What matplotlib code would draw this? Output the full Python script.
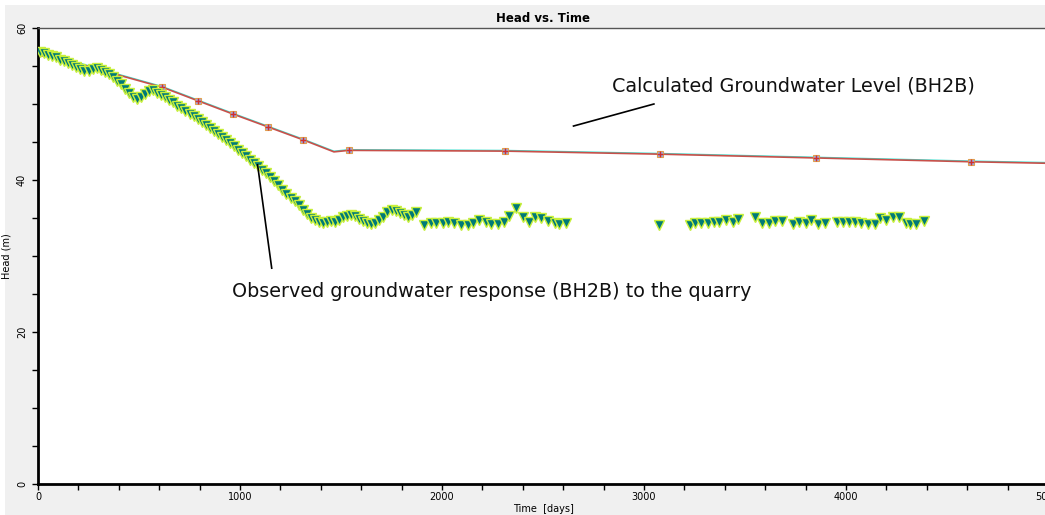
import matplotlib
matplotlib.use("Agg")
import matplotlib.pyplot as plt
from matplotlib.patches import Rectangle
from matplotlib.ticker import MultipleLocator

# --- data ---
calc_t = [10, 25, 333, 616, 794, 963, 1137, 1311, 1465, 1539, 2314, 3078, 3853, 4618, 5000]
calc_h = [56.8, 56.7, 54.3, 52.2, 50.4, 48.7, 47.0, 45.3, 43.7, 43.9, 43.8, 43.4, 42.9, 42.4, 42.2]
calc_mark_t = [25, 333, 616, 794, 963, 1137, 1311, 1539, 2314, 3078, 3853, 4618]
calc_mark_h = [56.7, 54.3, 52.2, 50.4, 48.7, 47.0, 45.3, 43.9, 43.8, 43.4, 42.9, 42.4]

obs_t = [10, 30, 50, 70, 90, 110, 130, 150, 170, 190, 210, 230, 250, 270, 290,
         310, 330, 350, 370, 390, 410, 430, 450, 470, 490, 510, 530, 550, 570,
         590, 610, 630, 650, 670, 690, 710, 730, 750, 770, 790, 810, 830, 850,
         870, 890, 910, 930, 950, 970, 990, 1010, 1030, 1050, 1070, 1090, 1110,
         1130, 1150, 1170, 1190, 1210, 1230, 1250, 1270, 1290, 1310, 1330, 1350,
         1370, 1390, 1410, 1430, 1450, 1470, 1490, 1510, 1530, 1550, 1570, 1590,
         1610, 1630, 1650, 1670, 1690, 1710, 1730, 1750, 1770, 1790, 1810, 1830,
         1850, 1870,
         1912, 1947, 1971, 2006, 2031, 2061, 2095, 2130, 2155, 2185, 2219, 2244,
         2279, 2309, 2334, 2368, 2403, 2433, 2458, 2492, 2527, 2557, 2577, 2612,
         3073, 3227, 3252, 3282, 3317, 3347, 3371, 3406, 3441, 3466, 3550, 3585,
         3620, 3650, 3684, 3739, 3769, 3803, 3828, 3863, 3898, 3957, 3987, 4017,
         4047, 4076, 4111, 4146, 4166, 4200, 4235, 4260, 4295, 4319, 4349, 4384]
obs_h = [56.8, 56.7, 56.5, 56.3, 56.2, 55.8, 55.6, 55.4, 55.1, 54.9, 54.6, 54.3,
         54.4, 54.6, 54.8, 54.5, 54.2, 53.9, 53.5, 53.0, 52.6, 52.0, 51.4, 50.9,
         50.6, 50.9, 51.3, 51.7, 51.8, 51.5, 51.2, 50.9, 50.5, 50.2, 49.8, 49.5,
         49.1, 48.7, 48.4, 48.0, 47.6, 47.3, 46.9, 46.5, 46.1, 45.7, 45.3, 44.9,
         44.5, 44.0, 43.6, 43.1, 42.6, 42.2, 41.8, 41.3, 40.9, 40.4, 39.9, 39.3,
         38.7, 38.1, 37.6, 37.3, 36.7, 36.1, 35.5, 35.0, 34.7, 34.5, 34.4, 34.5,
         34.6, 34.5, 34.8, 35.1, 35.3, 35.4, 35.3, 34.9, 34.6, 34.3, 34.2, 34.4,
         34.7, 35.1, 35.8, 36.1, 35.9, 35.7, 35.4, 35.1, 35.4, 35.8,
         34.1, 34.3, 34.3, 34.3, 34.5, 34.3, 34.1, 34.1, 34.3, 34.7, 34.5, 34.2,
         34.2, 34.5, 35.3, 36.3, 35.1, 34.5, 35.1, 35.0, 34.6, 34.3, 34.2, 34.3,
         34.1, 34.1, 34.3, 34.3, 34.3, 34.5, 34.5, 34.7, 34.5, 34.9, 35.1, 34.3,
         34.3, 34.6, 34.6, 34.2, 34.5, 34.3, 34.7, 34.2, 34.3, 34.5, 34.5, 34.5,
         34.5, 34.3, 34.2, 34.2, 35.0, 34.7, 35.1, 35.1, 34.3, 34.2, 34.2, 34.6]

GRAY = "#f0f0f0"
TEAL, LIME = "#007a78", "#c8f03a"

fig = plt.figure(figsize=(10.45, 5.15), dpi=100)
fig.patch.set_facecolor("white")
fig.patches.append(Rectangle((5 / 1045, 0), 1, 1 - 5 / 515, transform=fig.transFigure,
                             facecolor=GRAY, edgecolor="none", zorder=-10))

ax = fig.add_axes([38 / 1045, 31 / 515, 1010 / 1045, 456 / 515])
ax.set_facecolor("white")
ax.set_xlim(0, 5000)
ax.set_ylim(0, 60)

# calculated head: thin cyan trace under a red line
ax.plot(calc_t, [h + 0.1 for h in calc_h], color="#40e0d0", lw=0.9, zorder=3)
ax.plot(calc_t, calc_h, color="#c8504a", lw=1.2, zorder=4)
ax.plot(calc_mark_t, calc_mark_h, ls="none", marker="s", ms=4.5, mfc="#9aa8e0",
        mec="#e0a050", mew=0.8, zorder=5)
ax.plot(calc_mark_t, calc_mark_h, ls="none", marker="+", ms=5, mec="#d03030",
        mew=1.0, zorder=6)

# observed head
ax.plot(obs_t, obs_h, ls="none", marker="v", ms=7.5, mfc=TEAL, mec=LIME,
        mew=1.0, zorder=7)

# annotations
ax.text(2244, 25.3, "Observed groundwater response (BH2B) to the quarry",
        ha="center", va="center", fontsize=13.8, color="#111111", zorder=8)
ax.plot([1087, 1157], [42.0, 28.4], color="black", lw=1.2, zorder=8)
ax.text(3740, 52.4, "Calculated Groundwater Level (BH2B)",
        ha="center", va="center", fontsize=13.8, color="#111111", zorder=8)
ax.plot([2651, 3049], [47.1, 50.0], color="black", lw=1.2, zorder=8)

# axes cosmetics
for s in ("left", "bottom"):
    ax.spines[s].set_linewidth(2)
    ax.spines[s].set_color("black")
ax.spines["top"].set_color("#555555")
ax.spines["top"].set_linewidth(1)
ax.spines["right"].set_visible(False)

ax.xaxis.set_major_locator(MultipleLocator(1000))
ax.xaxis.set_minor_locator(MultipleLocator(200))
ax.yaxis.set_major_locator(MultipleLocator(20))
ax.yaxis.set_minor_locator(MultipleLocator(5))
ax.tick_params(which="both", direction="out", length=4, width=1, labelsize=7,
               pad=2)
ax.tick_params(axis="y", pad=4)
for lab in ax.get_yticklabels():
    lab.set_rotation(90)
    lab.set_va("center")

ax.set_xlabel("Time  [days]", fontsize=7, labelpad=1)
ax.set_ylabel("Head (m)", fontsize=7)
ax.yaxis.set_label_coords(-26 / 1010, 0.5)
ax.set_title("Head vs. Time", fontsize=8.5, fontweight="bold", pad=4)

fig.savefig("out.png", dpi=100, facecolor=fig.get_facecolor())
